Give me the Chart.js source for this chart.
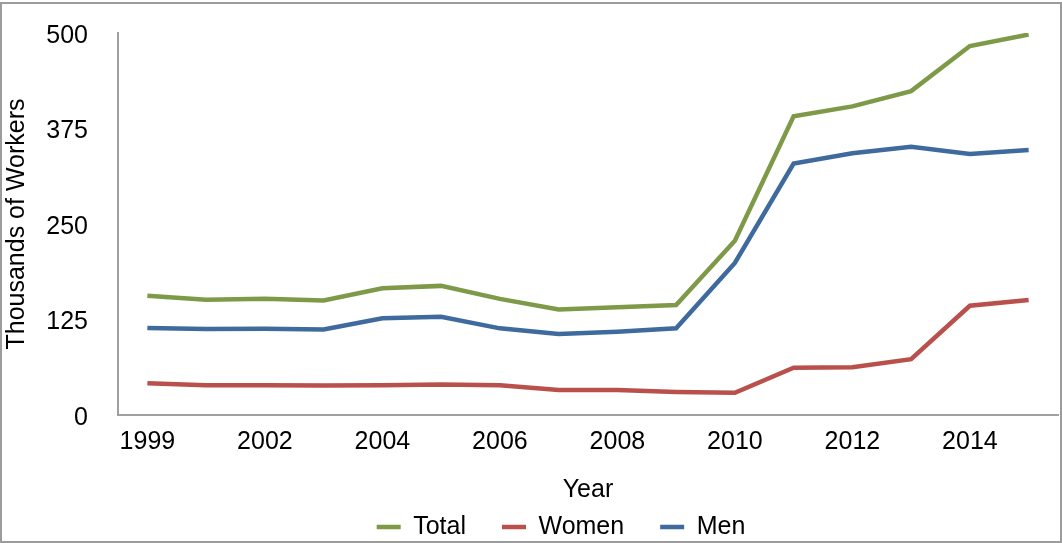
<!DOCTYPE html>
<html>
<head>
<meta charset="utf-8">
<script src="https://cdn.jsdelivr.net/npm/chart.js@4/dist/chart.umd.min.js"></script>
<style>
  html, body { margin: 0; padding: 0; background: #fff; overflow: hidden; }
  #wrap { position: relative; width: 1062px; height: 543px; }
  #chart { position: absolute; left: 0; top: 0; }
  #frame {
    position: absolute; left: 0; top: 2px; width: 1062px; height: 541px;
    box-sizing: border-box; border: 2px solid #9c9c9c; pointer-events: none;
  }
</style>
</head>
<body>
<div id="wrap">
  <canvas id="chart" width="1062" height="543"></canvas>
  <div id="frame"></div>
</div>
<script>
// years (second point is unlabeled on the axis)
const years = ["1999", "2000", "2002", "2003", "2004", "2005", "2006", "2007",
               "2008", "2009", "2010", "2011", "2012", "2013", "2014", "2015"]

// thousands of workers
const total = [156, 151, 152, 150, 166, 169, 152, 138, 141, 144, 228, 391, 404, 424, 483, 498]
const women = [41.5, 39, 39, 38.5, 39, 40, 39, 32.7, 32.7, 30, 29, 62, 62.5, 73, 143, 150.5]
const men = [114, 112.5, 113, 112, 126.5, 128.7, 113.4, 106, 109, 113.4, 199, 329, 342.5, 351, 341.6, 347]

const yTicks = [0, 125, 250, 375, 500]

const FONT = { family: "'Liberation Sans', Arial, Helvetica, sans-serif", size: 25 }

// nudge the legend to where it sits in the original
const legendShift = {
    id: 'legendShift',
    afterLayout(chart) {
        const lg = chart.legend
        lg.left += 32
        lg.right += 32
        lg.top += 6.5
        lg.bottom += 6.5
    }
}

const ctx = document.getElementById("chart").getContext("2d")
new Chart(ctx, {
    type: 'line',
    data: {
        labels: years,
        datasets: [{
            label: 'Total',
            data: total,
            borderColor: '#7e9a48',
            backgroundColor: '#7e9a48',
            borderWidth: 4.5,
            pointRadius: 0,
            tension: 0
        },
        {
            label: 'Women',
            data: women,
            borderColor: '#b9504c',
            backgroundColor: '#b9504c',
            borderWidth: 4.5,
            pointRadius: 0,
            tension: 0
        },
        {
            label: 'Men',
            data: men,
            borderColor: '#3e6a9e',
            backgroundColor: '#3e6a9e',
            borderWidth: 4.5,
            pointRadius: 0,
            tension: 0
        }]
    },
    options: {
        responsive: false,
        animation: false,
        layout: {
            padding: { top: 33, right: 4, bottom: 0, left: 0 }
        },
        scales: {
            x: {
                offset: true,
                grid: { display: false, drawTicks: false },
                border: { color: '#a0a0a0', width: 2 },
                ticks: {
                    color: '#000',
                    font: FONT,
                    padding: 12.5,
                    autoSkip: false,
                    maxRotation: 0,
                    callback: function (value, index) {
                        return index % 2 === 0 ? years[index] : ''
                    }
                },
                title: {
                    display: true,
                    text: 'Year',
                    color: '#000',
                    font: FONT,
                    padding: { top: 0, bottom: -33 }
                },
                afterFit: function (scale) { scale.height = 57 }
            },
            y: {
                min: 0,
                max: 500,
                grid: { display: false, drawTicks: false },
                border: { color: '#a0a0a0', width: 2 },
                afterBuildTicks: function (scale) {
                    scale.ticks = yTicks.map(v => ({ value: v }))
                },
                ticks: {
                    color: '#000',
                    font: FONT,
                    padding: 30,
                    labelOffset: 3
                },
                title: {
                    display: true,
                    text: 'Thousands of Workers',
                    color: '#000',
                    font: FONT,
                    padding: { top: 2, bottom: 0 }
                },
                afterFit: function (scale) {
                    scale.width = 118
                    scale.paddingTop = 0
                    scale.paddingBottom = 0
                }
            }
        },
        plugins: {
            legend: {
                position: 'bottom',
                labels: {
                    color: '#000',
                    font: FONT,
                    usePointStyle: true,
                    pointStyle: 'line',
                    pointStyleWidth: 24,
                    padding: 36
                }
            },
            tooltip: { enabled: false }
        }
    },
    plugins: [legendShift]
});
</script>
</body>
</html>
